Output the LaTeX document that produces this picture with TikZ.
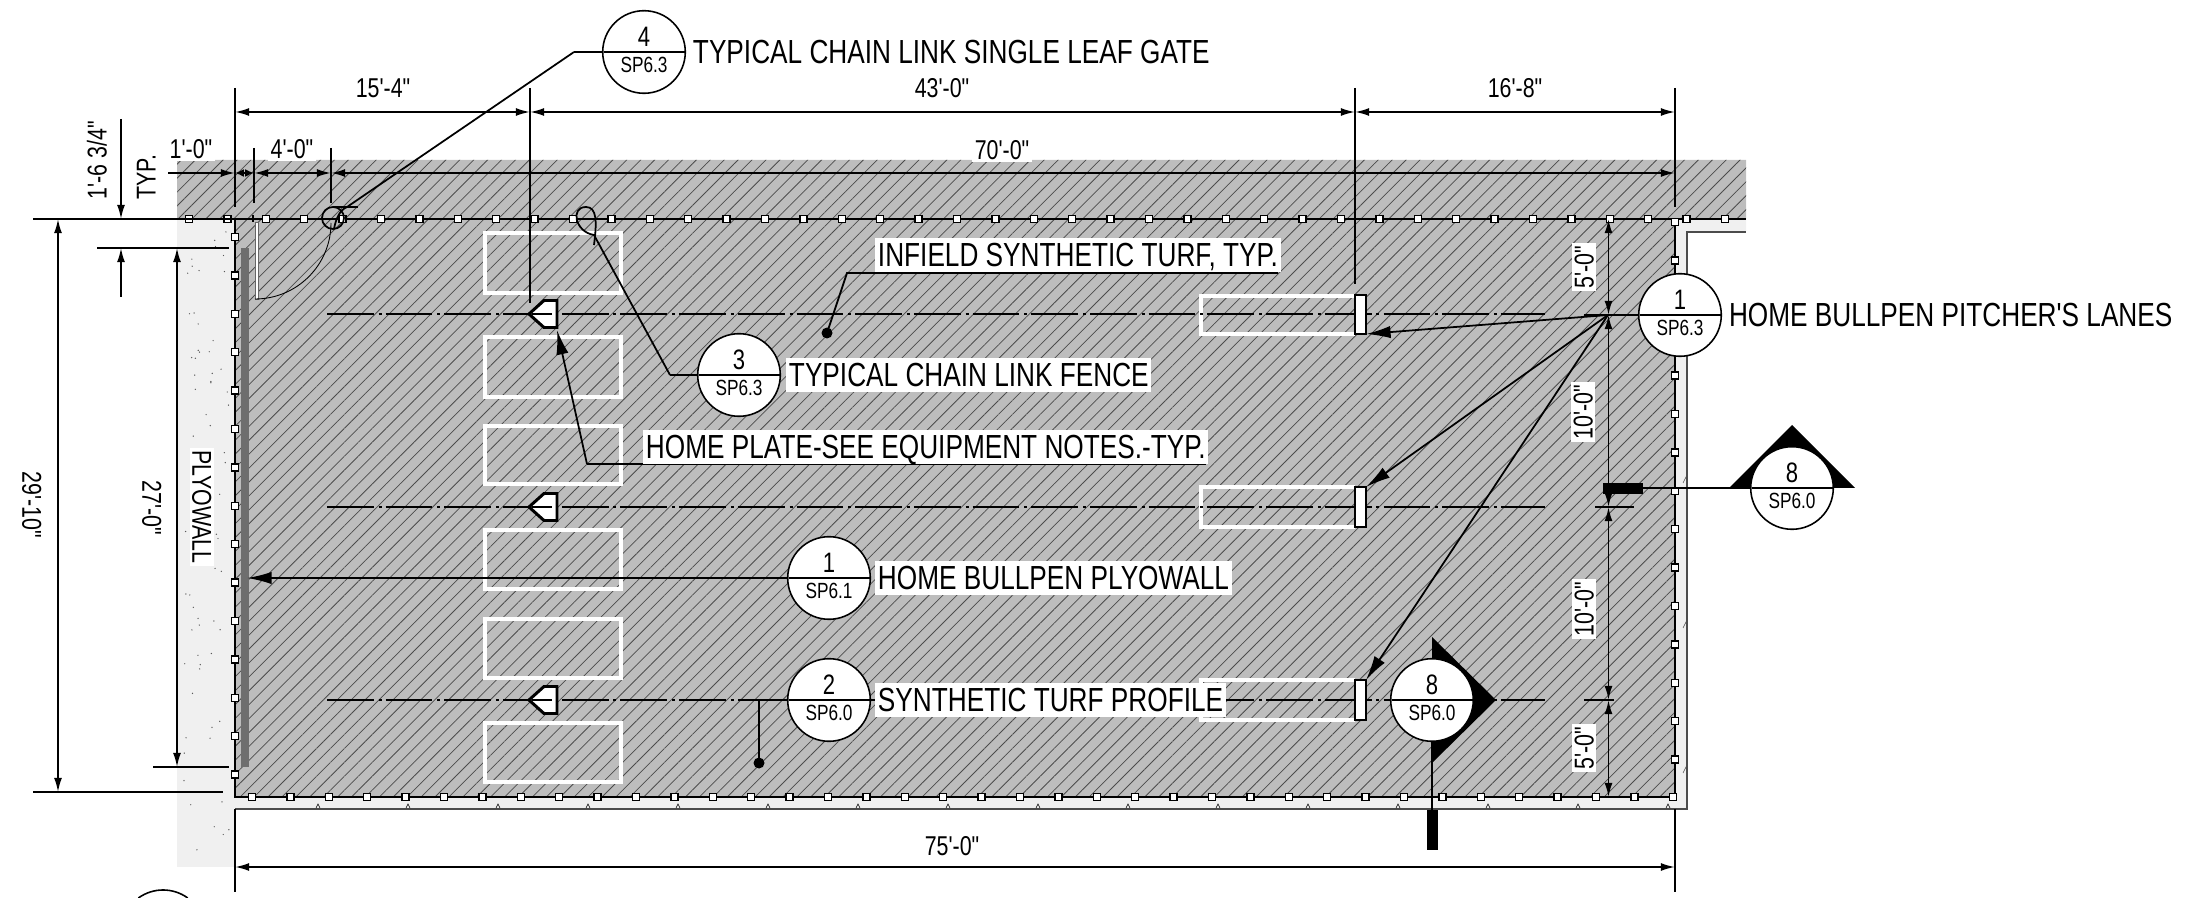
\documentclass[tikz,border=0pt]{standalone}
\usepackage{fontspec}
\usepackage{tikz}
\usetikzlibrary{positioning,shapes.multipart,arrows.meta,patterns.meta}
\newfontfamily\planfont[FakeStretch=0.785]{Liberation Sans}
\newcommand{\sheetfont}{\planfont\fontsize{12.5}{12.5}\selectfont}
\definecolor{turfgrey}{HTML}{BDBDBD}
\definecolor{slabgrey}{HTML}{F0F0F0}
\definecolor{plygrey}{HTML}{6E6E6E}

\begin{document}
\begin{tikzpicture}[x=0.2mm,y=0.2mm]
\tikzstyle{every node}+=[inner sep=0pt,font=\planfont]
\tikzstyle{note}=[anchor=west,fill=white,inner xsep=1.5pt,inner ysep=3.2pt,text height=13.4pt,text depth=0pt,font=\planfont\fontsize{19}{20}\selectfont]
\tikzstyle{dimtext}=[fill=white,inner sep=1.5pt,text height=11pt,text depth=0pt,font=\planfont\fontsize{15.5}{16}\selectfont]
\tikzstyle{tagmark}=[circle split,draw=black,fill=white,line width=0.9pt,minimum size=47pt,inner sep=2.6pt,font=\planfont\fontsize{16}{16}\selectfont]
\tikzstyle{dimline}=[line width=1pt,{Latex[length=8pt,width=4.5pt]}-{Latex[length=8pt,width=4.5pt]}]
\tikzstyle{dimend}=[line width=1pt,-{Latex[length=8pt,width=4.5pt]}]
\tikzstyle{extline}=[line width=1pt]
\tikzstyle{leader}=[line width=1pt,line join=miter]
\tikzstyle{pointer}=[line width=1pt,-{Latex[length=14pt,width=7pt]}]
\tikzstyle{centerline}=[line width=0.8pt,dash pattern=on 26.6pt off 2.8pt on 1.7pt off 2.3pt]
\tikzstyle{post}=[draw=black,fill=white,line width=0.8pt,minimum size=4pt,rectangle]
\tikzstyle{plate}=[draw=white,line width=1.9pt]
\tikzstyle{rubber}=[draw=black,fill=white,line width=1.3pt]
\useasboundingbox (0,0) rectangle (2212,-898);

\fill [turfgrey] (177,-160) -- (1746,-160) -- (1746,-219) -- (1675,-219) -- (1675,-797) -- (235,-797) -- (235,-219) -- (177,-219) -- cycle;
\fill [pattern={Lines[angle=45,distance=5.6pt,line width=0.45pt]},pattern color=black!70] (177,-160) -- (1746,-160) -- (1746,-219) -- (1675,-219) -- (1675,-797) -- (235,-797) -- (235,-219) -- (177,-219) -- cycle;
\fill [slabgrey] (235,-797) -- (235,-809) -- (1687,-809) -- (1687,-232) -- (1746,-232) -- (1746,-219) -- (1675,-219) -- (1675,-797) -- cycle;
\fill [slabgrey] (177,-219) rectangle (235,-867);
\draw [line width=0.6pt,black!70] (235,-809) -- (1687,-809) -- (1687,-232) -- (1746,-232);
\pgfmathsetseed{11}
\foreach \i in {1,...,70} {
  \pgfmathsetmacro{\dotx}{184+rnd*46}
  \pgfmathsetmacro{\doty}{228+rnd*632}
  \fill [black!65] (\dotx,-\doty) circle (0.7);
}
\foreach \i in {318,408,...,1668} {
  \draw [line width=0.3pt] (\i-2,-808) -- (\i,-804) -- (\i+2,-808);
}
\foreach \i in {483,628,773} {
  \draw [line width=0.3pt,black!70] (1683,-\i) -- (1686,-\i+6) -- (1687,-\i);
}
\fill [plygrey] (241,-248) rectangle (249,-767);

\foreach \i/\j in {233/293,337/397,426/484,530/589,619/678,723/782} {
  \draw [plate] (485,-\i) rectangle (621,-\j);
}
\foreach \i/\j in {296/334,487/527,680/720} {
  \draw [plate] (1355,-\i) -- (1201,-\i) -- (1201,-\j) -- (1355,-\j);
}
\foreach \i in {314,507,700} {
  \draw [centerline] (327,-\i) -- (1545,-\i);
}

\draw [line width=1.4pt] (177,-219) -- (1746,-219);
\draw [line width=1.4pt] (235,-219) -- (235,-797) -- (1675,-797) -- (1675,-219);
\draw [line width=1.6pt] (253,-215) -- (253,-222);
\draw [line width=0.25pt,draw=black!60,fill=white] (255,-222) rectangle (258,-299);
\draw [line width=0.5pt] (255,-299) arc (-90:0:76);

\foreach \i in {0,...,40} {
  \node [post] (toppost\i) at (189+\i*38.4,-219) {};
}
\foreach \i in {0,...,14} {
  \node [post] (leftpost\i) at (235,-237-\i*38.4) {};
  \node [post] (rightpost\i) at (1675,-222-\i*38.4) {};
}
\foreach \i in {0,...,37} {
  \node [post] (botpost\i) at (252+\i*38.4,-797) {};
}

\foreach \i in {314,507,700} {
  \draw [rubber,line width=1.7pt] (529,-\i) -- (544,-\i+13.5) -- (557,-\i+13.5) -- (557,-\i-13.5) -- (544,-\i-13.5) -- cycle;
  \draw [line width=0.8pt] (532,-\i) -- (552,-\i);
}
\foreach \i/\j in {295/334,487/527,680/720} {
  \draw [rubber] (1355,-\i) rectangle (1366,-\j);
}

\draw [extline] (235,-88) -- (235,-207);
\draw [extline] (530,-88) -- (530,-303);
\draw [extline] (1355,-88) -- (1355,-284);
\draw [extline] (1675,-88) -- (1675,-207);
\draw [extline] (254,-148) -- (254,-203);
\draw [extline] (331,-148) -- (331,-203);
\draw [extline] (33,-219) -- (235,-219);
\draw [extline] (97,-248) -- (229,-248);
\draw [extline] (153,-767) -- (229,-767);
\draw [extline] (33,-792) -- (223,-792);
\draw [extline] (235,-809) -- (235,-892);
\draw [extline] (1675,-809) -- (1675,-892);
\draw [extline] (1584,-315) -- (1634,-315);
\draw [extline] (1595,-507) -- (1634,-507);
\draw [extline] (1584,-700) -- (1614,-700);

\coordinate (topa) at (235,-112);
\coordinate (topb) at (530,-112);
\coordinate (topc) at (1355,-112);
\coordinate (topd) at (1675,-112);
\coordinate (runa) at (168,-173);
\coordinate (runb) at (235,-173);
\coordinate (runc) at (254,-173);
\coordinate (rund) at (331,-173);
\coordinate (rune) at (1675,-173);
\coordinate (leftup) at (121,-119);
\coordinate (leftupend) at (121,-219);
\coordinate (leftlow) at (121,-297);
\coordinate (leftlowend) at (121,-248);
\coordinate (fullup) at (58,-219);
\coordinate (fulldown) at (58,-792);
\coordinate (plyup) at (177,-248);
\coordinate (plydown) at (177,-767);
\coordinate (lanea) at (1608.5,-219);
\coordinate (laneb) at (1608.5,-315);
\coordinate (lanec) at (1608.5,-507);
\coordinate (laned) at (1608.5,-700);
\coordinate (lanee) at (1608.5,-797);
\coordinate (basea) at (235,-867);
\coordinate (baseb) at (1675,-867);

\draw [dimline] (topa) -- (topb);
\draw [dimline] (topb) -- (topc);
\draw [dimline] (topc) -- (topd);
\draw [dimend] (runa) -- (runb);
\draw [dimline,{Latex[length=5pt,width=4.5pt]}-{Latex[length=5pt,width=4.5pt]}] (runb) -- (runc);
\draw [dimline] (runc) -- (rund);
\draw [dimline] (rund) -- (rune);
\draw [dimend] (leftup) -- (leftupend);
\draw [dimend] (leftlow) -- (leftlowend);
\draw [dimline] (fullup) -- (fulldown);
\draw [dimline] (plyup) -- (plydown);
\draw [dimline] (lanea) -- (laneb);
\draw [dimline] (laneb) -- (lanec);
\draw [dimline] (lanec) -- (laned);
\draw [dimline] (laned) -- (lanee);
\draw [dimline] (basea) -- (baseb);

\node [dimtext] (dimgate) at (383,-88) {15'-4"};
\node [dimtext] (dimmid) at (942,-88) {43'-0"};
\node [dimtext] (dimlast) at (1515,-88) {16'-8"};
\node [dimtext] (dimfoot) at (191,-149) {1'-0"};
\node [dimtext] (dimfour) at (292,-149) {4'-0"};
\node [dimtext] (dimrun) at (1002,-150) {70'-0"};
\node [dimtext] (dimbase) at (952,-846) {75'-0"};
\node [dimtext,rotate=90] (dimband) at (97,-160) {1'-6 3/4"};
\node [dimtext,rotate=90] (dimtyp) at (146,-177) {TYP.};
\node [dimtext,rotate=-90] (dimfull) at (32,-505) {29'-10"};
\node [dimtext,rotate=-90] (dimply) at (152,-508) {27'-0"};
\node [dimtext,rotate=-90] (plyname) at (202,-507) {PLYOWALL};
\node [dimtext,rotate=90] (dimlanea) at (1584,-267) {5'-0"};
\node [dimtext,rotate=90] (dimlaneb) at (1583,-412) {10'-0"};
\node [dimtext,rotate=90] (dimlanec) at (1584,-609) {10'-0"};
\node [dimtext,rotate=90] (dimlaned) at (1584,-748) {5'-0"};

\fill [black] (1792,-425) -- (1729,-488) -- (1855,-488) -- cycle;
\fill [black] (1496,-700) -- (1432,-637) -- (1432,-763) -- cycle;
\fill [black] (1603,-483) rectangle (1643,-494);
\fill [black] (1427,-810) rectangle (1438,-850);

\coordinate (gatebend) at (574,-52);
\coordinate (gatedrop) at (347,-207);
\coordinate (gatetick) at (358,-207);
\coordinate (gatetop) at (333,-207);
\coordinate (fencebend) at (670,-375);
\coordinate (fencedrop) at (594,-235);
\coordinate (turfbend) at (847,-273);
\coordinate (turfdot) at (827,-333);
\coordinate (turfend) at (1278,-273);
\coordinate (platebend) at (587,-464);
\coordinate (plateend) at (1206,-464);
\coordinate (platetip) at (557,-330);
\coordinate (profilebend) at (759,-700);
\coordinate (profiledot) at (759,-763);
\coordinate (walltip) at (247,-578);
\coordinate (lanehub) at (1608,-315);
\coordinate (lanetipa) at (1366,-334);
\coordinate (lanetipb) at (1366,-487);
\coordinate (lanetipc) at (1366,-680);
\coordinate (sideend) at (1643,-488);
\coordinate (endend) at (1432,-810);

\draw [leader] (gatebend) -- (gatedrop);
\draw [leader] (gatetop) -- (gatetick);
\draw [leader] (gatedrop) .. controls (340,-210) and (336,-218) .. (334,-229);
\draw [leader] (333,-218) circle (11);
\draw [leader] (fencebend) -- (fencedrop);
\draw [leader] (fencedrop) .. controls (575,-232) and (570,-207) .. (586,-207) .. controls (597,-207) and (597,-222) .. (594,-245);
\draw [leader] (turfend) -- (turfbend) -- (turfdot);
\fill [black] (turfdot) circle (5.5);
\draw [leader] (profilebend) -- (profiledot);
\fill [black] (profiledot) circle (5.5);
\draw [leader] (plateend) -- (platebend);
\draw [pointer] (platebend) -- (platetip);
\draw [pointer] (lanehub) -- (lanetipa);
\draw [pointer] (lanehub) -- (lanetipb);
\draw [pointer] (lanehub) -- (lanetipc);

\node [tagmark] (gatetag) at (644,-52) {4\nodepart{lower}\sheetfont SP6.3};
\node [tagmark] (fencetag) at (739,-375) {3\nodepart{lower}\sheetfont SP6.3};
\node [tagmark] (walltag) at (829,-578) {1\nodepart{lower}\sheetfont SP6.1};
\node [tagmark] (turftag) at (829,-700) {2\nodepart{lower}\sheetfont SP6.0};
\node [tagmark] (lanetag) at (1680,-315) {1\nodepart{lower}\sheetfont SP6.3};
\node [tagmark] (sideview) at (1792,-488) {8\nodepart{lower}\sheetfont SP6.0};
\node [tagmark] (endview) at (1432,-700) {8\nodepart{lower}\sheetfont SP6.0};

\draw [leader] (gatetag.west) -- (gatebend);
\draw [leader] (fencetag.west) -- (fencebend);
\draw [pointer] (walltag.west) -- (walltip);
\draw [leader] (turftag.west) -- (profilebend);
\draw [leader] (lanetag.west) -- (lanehub);
\draw [leader] (sideview.west) -- (sideend);
\draw [leader] (endview.south) -- (endend);

\node [note] (gatenote) at (690,-52) {TYPICAL CHAIN LINK SINGLE LEAF GATE};
\node [note] (turfnote) at (875,-255) {INFIELD SYNTHETIC TURF, TYP.};
\node [note] (fencenote) at (786,-375) {TYPICAL CHAIN LINK FENCE};
\node [note] (platenote) at (643,-447) {HOME PLATE-SEE EQUIPMENT NOTES.-TYP.};
\node [note] (wallnote) at (875,-578) {HOME BULLPEN PLYOWALL};
\node [note] (profilenote) at (875,-700) {SYNTHETIC TURF PROFILE};
\node [note] (lanenote) at (1726,-315) {HOME BULLPEN PITCHER'S LANES};
\draw [line width=0.9pt] (138.4,-898) arc (126:54:42);
\end{tikzpicture}
\end{document}
